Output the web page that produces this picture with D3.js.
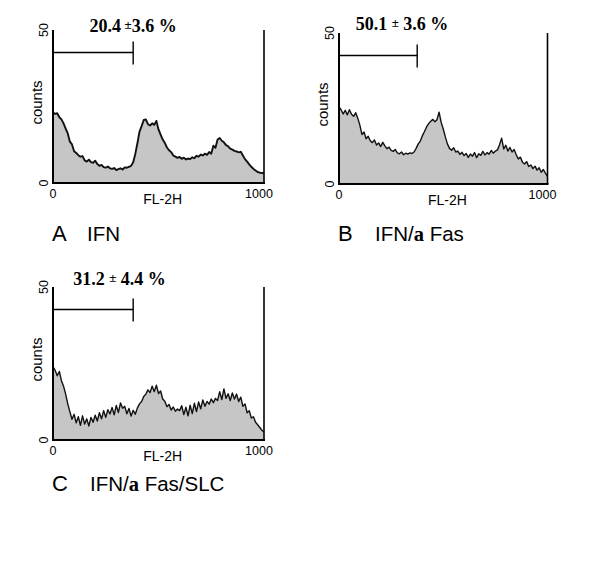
<!DOCTYPE html>
<html>
<head>
<meta charset="utf-8">
<script src="https://cdn.jsdelivr.net/npm/d3@7"></script>
<style>
  body { margin: 0; background: #fff; }
  svg { display: block; }
</style>
</head>
<body>
<div class="container"></div>
<script>
// FL-2H channel for each count (every 10th channel)
var channels = d3.range(0, 1001, 10);

var countsA = [
  23.0, 22.6, 22.8, 21.5, 20.8, 19.5, 17.8, 16.2, 13.5, 12.6,
  10.4, 9.8, 9.1, 8.6, 8.8, 7.4, 7.0, 7.6, 6.8, 6.6,
  7.3, 6.2, 5.6, 5.9, 5.2, 5.0, 5.4, 4.8, 4.6, 4.9,
  4.2, 4.5, 4.8, 4.4, 5.1, 5.0, 5.3, 5.6, 6.8, 9.5,
  13.0, 16.8, 18.6, 20.6, 20.8, 19.2, 18.8, 19.5, 19.0, 20.3,
  17.5, 15.8, 14.2, 13.1, 11.6, 10.7, 10.1, 9.0, 8.6, 8.2,
  8.5, 7.9, 8.3, 7.7, 8.0, 7.8, 8.4, 8.1, 8.9, 8.6,
  9.3, 9.0, 9.6, 9.2, 10.1, 9.6, 12.2, 11.5, 14.2, 14.7,
  13.8, 13.3, 12.4, 12.0, 11.2, 10.9, 10.5, 10.3, 10.0, 10.2,
  9.0, 7.8, 7.0, 6.1, 5.3, 4.6, 4.1, 3.6, 3.4, 3.2,
  3.4
];

var countsB = [
  25.5, 24.6, 23.2, 24.4, 22.9, 24.6, 23.1, 22.4, 23.6, 21.8,
  19.5, 16.4, 17.2, 15.0, 15.8, 14.3, 13.7, 14.6, 12.9, 13.6,
  12.4, 13.8, 12.6, 11.7, 12.2, 11.1, 10.8, 11.4, 10.3, 10.0,
  10.6, 9.7, 10.2, 9.9, 10.3, 10.1, 10.6, 11.8, 13.3, 14.2,
  16.0, 17.4, 18.9, 20.0, 20.8, 21.4, 20.6, 21.3, 23.8, 20.4,
  18.2, 15.6, 13.3, 11.8, 11.2, 12.0, 10.6, 10.9, 9.8, 10.5,
  9.4, 10.1, 8.8, 9.9, 9.2, 10.4, 8.7, 10.0, 9.5, 10.8,
  9.6, 10.4, 9.9, 11.1, 10.2, 10.9, 11.3, 13.0, 15.2, 11.6,
  12.8, 10.9, 12.1, 10.6, 11.4, 9.7, 8.3, 8.9, 7.2, 6.6,
  7.4, 5.8, 6.3, 5.1, 5.9, 4.6, 5.4, 3.9, 4.8, 3.6,
  2.5
];

var countsC = [
  24.0, 22.8, 21.0, 22.4, 19.4, 17.6, 15.0, 11.8, 9.2, 6.8,
  8.4, 5.6, 7.6, 4.8, 7.9, 5.2, 6.9, 4.6, 7.4, 5.8,
  8.1, 6.2, 8.9, 6.9, 9.6, 7.4, 9.9, 8.5, 10.6, 8.2,
  11.3, 9.0, 12.1, 10.4, 11.0, 8.6, 10.3, 7.8, 9.7, 8.4,
  10.5, 11.8, 12.6, 14.2, 15.0, 16.4, 15.5, 17.6, 15.8, 17.9,
  15.2, 16.0, 13.4, 12.7, 10.9, 11.6, 9.8, 10.8, 9.4, 10.1,
  9.6, 11.2, 8.3, 10.7, 7.9, 11.4, 8.6, 12.0, 9.3, 12.4,
  10.2, 13.1, 11.0, 12.6, 11.7, 13.4, 12.2, 13.6, 12.9, 15.8,
  13.2, 16.7, 13.6, 15.1, 12.9, 15.4, 13.4, 15.0, 12.6, 14.0,
  11.0, 11.8, 8.9, 9.6, 7.2, 7.6, 5.8, 5.0, 4.1, 3.2,
  2.6
];

var panelLetters = ["A", "B", "C"];
var treatments = [["IFN"], ["IFN/", "a", " Fas"], ["IFN/", "a", " Fas/SLC"]];
var gatePercents = ["20.4", "50.1", "31.2"];
var gateErrors = ["3.6", "3.6", "4.4"];
var gateEnds = [380, 375, 380];
var yTicks = [0, 50];
var xTicks = [0, 1000];

// where each panel sits on the page
var layout = [
  { left: 53, right: 264, top: 30, bottom: 183, noteX: 133, noteY: 32, labelY: 241, nameX: 87 },
  { left: 339, right: 547.5, top: 33, bottom: 184, noteX: 402, noteY: 30, labelY: 241, nameX: 375 },
  { left: 53, right: 264, top: 287, bottom: 440, noteX: 119.5, noteY: 285, labelY: 491, nameX: 90 }
];
var allCounts = [countsA, countsB, countsC];

var svg = d3.select(".container").append("svg")
  .attr("width", 600)
  .attr("height", 569);

layout.forEach(function(p, i) {
  drawPanel(p, i);
});

function drawPanel(p, i) {
  var x = d3.scaleLinear().domain([0, 1000]).range([p.left, p.right]);
  var y = d3.scaleLinear().domain([0, 50]).range([p.bottom, p.top]);
  var g = svg.append("g").attr("class", "panel-" + panelLetters[i]);

  var data = channels.map(function(c, k) { return [c, allCounts[i][k]]; });

  var area = d3.area()
    .x(function(d) { return x(d[0]); })
    .y0(y(0))
    .y1(function(d) { return y(d[1]); });

  var line = d3.line()
    .x(function(d) { return x(d[0]); })
    .y(function(d) { return y(d[1]); });

  g.append("path")
    .datum(data)
    .attr("d", area)
    .attr("fill", "#c6c6c6");

  g.append("path")
    .datum(data)
    .attr("d", line)
    .attr("fill", "none")
    .attr("stroke", "#111")
    .attr("stroke-width", i == 0 ? 1.9 : 1.4)
    .attr("stroke-linejoin", "round");

  // frame: left axis, base line, right edge
  g.append("line")
    .attr("x1", x(0)).attr("x2", x(0))
    .attr("y1", y(50)).attr("y2", y(0))
    .attr("stroke", "#000").attr("stroke-width", 2);
  g.append("line")
    .attr("x1", x(0) - 1).attr("x2", x(1000) + 1)
    .attr("y1", y(0)).attr("y2", y(0))
    .attr("stroke", "#000").attr("stroke-width", 2.2);
  g.append("line")
    .attr("x1", x(1000)).attr("x2", x(1000))
    .attr("y1", y(50)).attr("y2", y(0))
    .attr("stroke", "#000").attr("stroke-width", 1.6);

  // y tick labels, rotated
  g.selectAll(".ytick")
    .data(yTicks).enter()
    .append("text")
    .attr("class", "ytick")
    .attr("transform", function(d) {
      return "translate(" + (p.left - 5) + "," + y(d) + ") rotate(-90)";
    })
    .attr("text-anchor", "middle")
    .style("font", "12.5px 'Liberation Sans', Arial, sans-serif")
    .text(function(d) { return d; });

  g.append("text")
    .attr("transform", "translate(" + (p.left - 11.5) + "," + ((p.top + p.bottom) / 2 - 4) + ") rotate(-90)")
    .attr("text-anchor", "middle")
    .style("font", "15px 'Liberation Sans', Arial, sans-serif")
    .text("counts");

  // x tick labels
  g.selectAll(".xtick")
    .data(xTicks).enter()
    .append("text")
    .attr("class", "xtick")
    .attr("x", function(d) { return d == 0 ? x(d) : x(d) - 5; })
    .attr("y", p.bottom + 15)
    .attr("text-anchor", "middle")
    .style("font", "12.5px 'Liberation Sans', Arial, sans-serif")
    .text(function(d) { return d; });

  g.append("text")
    .attr("x", x(520))
    .attr("y", p.bottom + 21)
    .attr("text-anchor", "middle")
    .style("font", "14px 'Liberation Sans', Arial, sans-serif")
    .text("FL-2H");

  // gate bracket
  var gy = p.top + 22.5;
  g.append("line")
    .attr("x1", x(0)).attr("x2", x(gateEnds[i]))
    .attr("y1", gy).attr("y2", gy)
    .attr("stroke", "#000").attr("stroke-width", 1.4);
  g.append("line")
    .attr("x1", x(gateEnds[i])).attr("x2", x(gateEnds[i]))
    .attr("y1", gy - 11).attr("y2", gy + 12)
    .attr("stroke", "#000").attr("stroke-width", 1.4);

  var note = g.append("text")
    .attr("x", p.noteX)
    .attr("y", p.noteY)
    .attr("text-anchor", "middle")
    .style("font", "bold 18px 'Liberation Serif', 'Times New Roman', serif");
  note.append("tspan").text(gatePercents[i] + (i == 0 ? "\u2009" : " "));
  note.append("tspan").attr("dy", -3).style("font-size", "13px").text("\u00b1");
  note.append("tspan").attr("dy", 3).text((i == 0 ? "" : " ") + gateErrors[i] + " %");

  // panel caption
  g.append("text")
    .attr("x", p.left - 1)
    .attr("y", p.labelY)
    .style("font", "22px 'Liberation Sans', Arial, sans-serif")
    .text(panelLetters[i]);

  var cap = g.append("text")
    .attr("x", p.nameX)
    .attr("y", p.labelY)
    .style("font", "20.5px 'Liberation Sans', Arial, sans-serif");
  treatments[i].forEach(function(part) {
    var t = cap.append("tspan").text(part);
    if (part == "a") {
      t.style("font-family", "'Liberation Serif', 'Times New Roman', serif")
        .style("font-weight", "bold");
    }
  });
}
</script>
</body>
</html>
